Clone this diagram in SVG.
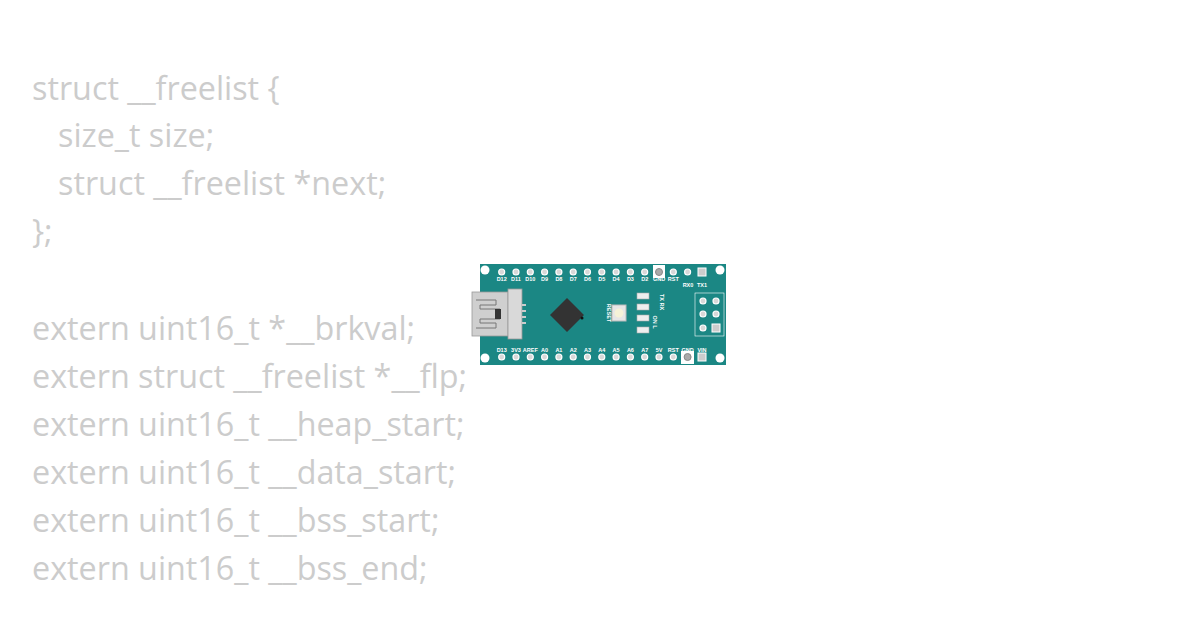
<svg xmlns="http://www.w3.org/2000/svg" width="1200" height="630" viewBox="0 0 1200 630">
<style>
.code{font-family:"Open Sans",sans-serif;font-size:32.3px;fill:#cccccc}
.pl{font-family:"Liberation Sans",sans-serif;font-size:5.5px;font-weight:bold;fill:#fff;text-anchor:middle}
.pin{fill:#d8d8d8;stroke:#fff;stroke-width:1.2}
.hole{fill:#fff}
</style>
<rect width="1200" height="630" fill="#fff"/>
<g id="code">
<text class="code" x="32" y="100">struct __freelist {</text>
<text class="code" x="58" y="147">size_t size;</text>
<text class="code" x="58" y="195">struct __freelist *next;</text>
<text class="code" x="32" y="243">};</text>
<text class="code" x="32" y="340">extern uint16_t *__brkval;</text>
<text class="code" x="32" y="388">extern struct __freelist *__flp;</text>
<text class="code" x="32" y="436">extern uint16_t __heap_start;</text>
<text class="code" x="32" y="484">extern uint16_t __data_start;</text>
<text class="code" x="32" y="532">extern uint16_t __bss_start;</text>
<text class="code" x="32" y="580">extern uint16_t __bss_end;</text>
</g>
<g id="board">
<rect x="480" y="264" width="246" height="101" fill="#1b8784"/>
<circle class="hole" cx="485" cy="270" r="4.5"/><circle class="hole" cx="720" cy="270" r="4.5"/>
<circle class="hole" cx="485" cy="358" r="4.5"/><circle class="hole" cx="720" cy="358" r="4.5"/>
<rect x="653" y="265" width="12" height="13" fill="#fff"/>
<rect x="681" y="351" width="13" height="13" fill="#fff"/>
<g>
<circle class="pin" cx="501.7" cy="272" r="3"/><circle class="pin" cx="516" cy="272" r="3"/><circle class="pin" cx="530.3" cy="272" r="3"/><circle class="pin" cx="544.6" cy="272" r="3"/><circle class="pin" cx="558.9" cy="272" r="3"/><circle class="pin" cx="573.2" cy="272" r="3"/><circle class="pin" cx="587.5" cy="272" r="3"/><circle class="pin" cx="601.8" cy="272" r="3"/><circle class="pin" cx="616.1" cy="272" r="3"/><circle class="pin" cx="630.4" cy="272" r="3"/><circle class="pin" cx="644.7" cy="272" r="3"/><circle cx="659" cy="272" r="3.5" fill="#aaa" stroke="#888"/><circle class="pin" cx="673.3" cy="272" r="3"/><circle class="pin" cx="687.6" cy="272" r="3"/><rect x="698" y="268" width="8" height="8" fill="#ccc" stroke="#fff"/>
<circle class="pin" cx="501.7" cy="357" r="3"/><circle class="pin" cx="516" cy="357" r="3"/><circle class="pin" cx="530.3" cy="357" r="3"/><circle class="pin" cx="544.6" cy="357" r="3"/><circle class="pin" cx="558.9" cy="357" r="3"/><circle class="pin" cx="573.2" cy="357" r="3"/><circle class="pin" cx="587.5" cy="357" r="3"/><circle class="pin" cx="601.8" cy="357" r="3"/><circle class="pin" cx="616.1" cy="357" r="3"/><circle class="pin" cx="630.4" cy="357" r="3"/><circle class="pin" cx="644.7" cy="357" r="3"/><circle class="pin" cx="659" cy="357" r="3"/><circle class="pin" cx="673.3" cy="357" r="3"/><circle cx="687.6" cy="357" r="3.5" fill="#aaa" stroke="#888"/><rect x="698" y="353" width="8" height="8" fill="#ccc" stroke="#fff"/>
</g>
<g>
<text class="pl" x="501.7" y="281">D12</text><text class="pl" x="516" y="281">D11</text><text class="pl" x="530.3" y="281">D10</text><text class="pl" x="544.6" y="281">D9</text><text class="pl" x="558.9" y="281">D8</text><text class="pl" x="573.2" y="281">D7</text><text class="pl" x="587.5" y="281">D6</text><text class="pl" x="601.8" y="281">D5</text><text class="pl" x="616.1" y="281">D4</text><text class="pl" x="630.4" y="281">D3</text><text class="pl" x="644.7" y="281">D2</text><text class="pl" x="659" y="281">GND</text><text class="pl" x="673.3" y="281">RST</text><text class="pl" x="688" y="287">RX0</text><text class="pl" x="702" y="287">TX1</text>
<text class="pl" x="501.7" y="352">D13</text><text class="pl" x="516" y="352">3V3</text><text class="pl" x="530.3" y="352">AREF</text><text class="pl" x="544.6" y="352">A0</text><text class="pl" x="558.9" y="352">A1</text><text class="pl" x="573.2" y="352">A2</text><text class="pl" x="587.5" y="352">A3</text><text class="pl" x="601.8" y="352">A4</text><text class="pl" x="616.1" y="352">A5</text><text class="pl" x="630.4" y="352">A6</text><text class="pl" x="644.7" y="352">A7</text><text class="pl" x="659" y="352">5V</text><text class="pl" x="673.3" y="352">RST</text><text class="pl" x="687.6" y="352">GND</text><text class="pl" x="702" y="352">VIN</text>
</g>
<rect x="472" y="292" width="36" height="44" fill="#cfcfcf" stroke="#999" stroke-width="0.8"/>
<rect x="508" y="289" width="14" height="50" fill="#d9d9d9" stroke="#999" stroke-width="0.8"/>
<path d="M476 300 h20 v5 h-16 v4 h20 v10 h-20 v4 h16 v5 h-20" fill="none" stroke="#777" stroke-width="1"/>
<rect x="495" y="309" width="6" height="10" fill="#333"/>
<rect x="522" y="304" width="4" height="2" fill="#ccc"/><rect x="522" y="310" width="4" height="2" fill="#ccc"/><rect x="522" y="316" width="4" height="2" fill="#ccc"/><rect x="522" y="322" width="4" height="2" fill="#ccc"/>
<rect x="555" y="303" width="24" height="24" fill="#333" transform="rotate(45 567 315)"/>
<circle cx="582" cy="318" r="1.5" fill="#111"/>
<rect x="612" y="305" width="14" height="16" fill="#e6e6e6" stroke="#bbb"/>
<circle cx="619" cy="313" r="4.5" fill="#f5f2d8"/>
<text class="pl" transform="translate(607 313) rotate(90)">RESET</text>
<g fill="#eee" stroke="#aaa" stroke-width="0.6">
<rect x="637" y="293" width="12" height="6"/><rect x="637" y="304" width="12" height="6"/><rect x="637" y="315" width="12" height="6"/><rect x="637" y="327" width="12" height="6"/>
</g>
<text class="pl" transform="translate(660 302) rotate(90)">TX RX</text>
<text class="pl" transform="translate(653 322) rotate(90)">ON L</text>
<rect x="695" y="293" width="29" height="43" fill="none" stroke="#fff" stroke-width="0.6"/>
<circle class="pin" cx="703" cy="301" r="3"/><circle class="pin" cx="716" cy="301" r="3"/><circle class="pin" cx="703" cy="314" r="3"/><circle class="pin" cx="716" cy="314" r="3"/><circle class="pin" cx="703" cy="328" r="3"/><rect x="712" y="324" width="8" height="8" fill="#ccc" stroke="#fff"/>
</g>
</svg>
